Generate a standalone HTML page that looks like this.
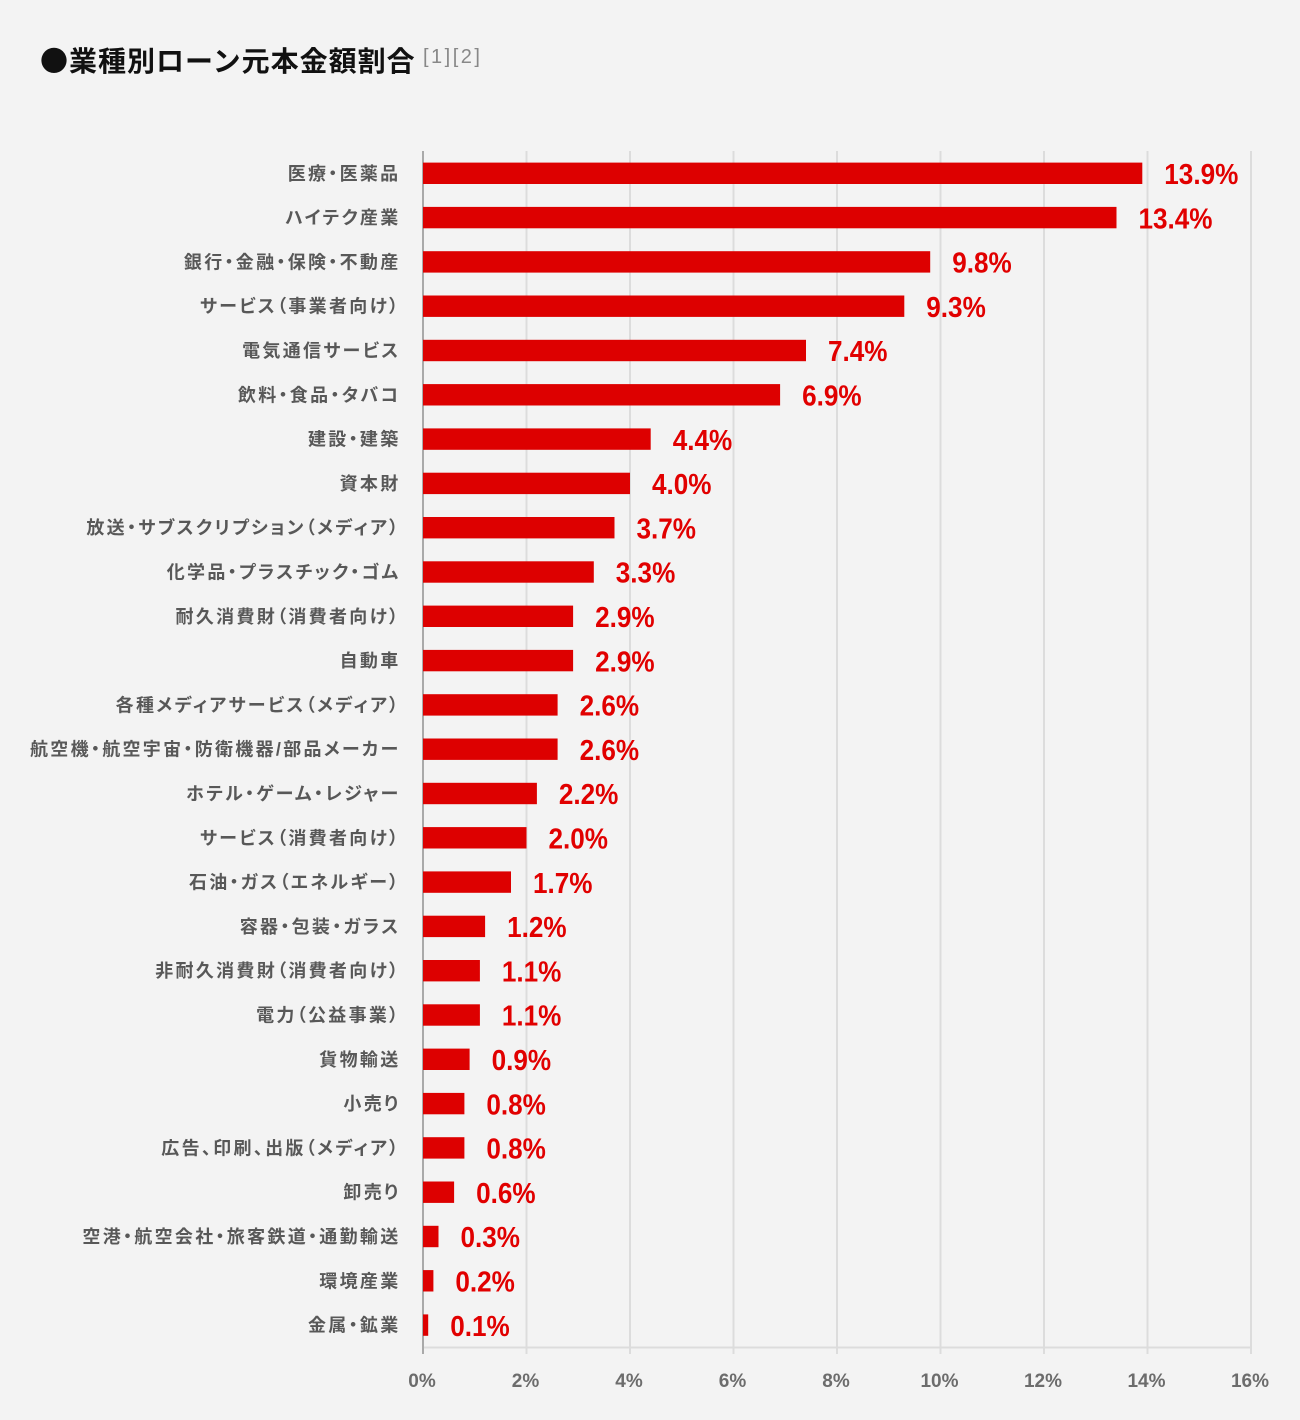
<!DOCTYPE html>
<html><head><meta charset="utf-8"><style>
html,body{margin:0;padding:0;background:#f3f3f3;}
body{width:1300px;height:1420px;overflow:hidden;}
svg{display:block;}
.cat{font-family:"Liberation Sans","Noto Sans CJK JP",sans-serif;font-weight:700;font-size:18px;fill:#585858;letter-spacing:2.3px;font-feature-settings:"palt";}
.val{font-family:"Liberation Sans",sans-serif;font-weight:700;font-size:29px;fill:#e10000;}
.tick{font-family:"Liberation Sans",sans-serif;font-weight:700;font-size:19px;fill:#6c6c6c;}
</style></head><body>
<svg width="1300" height="1420" viewBox="0 0 1300 1420" xmlns="http://www.w3.org/2000/svg">
<rect x="0" y="0" width="1300" height="1420" fill="#f3f3f3"/>
<text x="40" y="71" font-family="'Liberation Sans','Noto Sans CJK JP',sans-serif" font-weight="700" font-size="28" fill="#111" letter-spacing="1"><tspan font-family="'Noto Sans CJK JP',sans-serif">●</tspan>業種別ローン元本金額割合</text>
<text x="423" y="63" font-family="'Liberation Sans',sans-serif" font-size="20" fill="#888888" letter-spacing="2.5">[1][2]</text>
<g stroke="#dcdcdc" stroke-width="2">
<line x1="526.5" y1="151" x2="526.5" y2="1354"/>
<line x1="630" y1="151" x2="630" y2="1354"/>
<line x1="733.5" y1="151" x2="733.5" y2="1354"/>
<line x1="837" y1="151" x2="837" y2="1354"/>
<line x1="940.5" y1="151" x2="940.5" y2="1354"/>
<line x1="1044" y1="151" x2="1044" y2="1354"/>
<line x1="1147.5" y1="151" x2="1147.5" y2="1354"/>
<line x1="1251" y1="151" x2="1251" y2="1354"/>
<line x1="423" y1="1347.5" x2="1252" y2="1347.5"/>
</g>
<line x1="423" y1="151" x2="423" y2="1354" stroke="#a9a9a9" stroke-width="2"/>
<g fill="#dd0000">
<rect x="423" y="162.6" width="719.3" height="21.4"/>
<rect x="423" y="206.9" width="693.5" height="21.4"/>
<rect x="423" y="251.2" width="507.2" height="21.4"/>
<rect x="423" y="295.5" width="481.3" height="21.4"/>
<rect x="423" y="339.8" width="383.0" height="21.4"/>
<rect x="423" y="384.1" width="357.1" height="21.4"/>
<rect x="423" y="428.4" width="227.7" height="21.4"/>
<rect x="423" y="472.7" width="207.0" height="21.4"/>
<rect x="423" y="517.0" width="191.5" height="21.4"/>
<rect x="423" y="561.3" width="170.8" height="21.4"/>
<rect x="423" y="605.6" width="150.1" height="21.4"/>
<rect x="423" y="649.9" width="150.1" height="21.4"/>
<rect x="423" y="694.2" width="134.6" height="21.4"/>
<rect x="423" y="738.5" width="134.6" height="21.4"/>
<rect x="423" y="782.8" width="113.9" height="21.4"/>
<rect x="423" y="827.1" width="103.5" height="21.4"/>
<rect x="423" y="871.4" width="88.0" height="21.4"/>
<rect x="423" y="915.7" width="62.1" height="21.4"/>
<rect x="423" y="960.0" width="56.9" height="21.4"/>
<rect x="423" y="1004.3" width="56.9" height="21.4"/>
<rect x="423" y="1048.6" width="46.6" height="21.4"/>
<rect x="423" y="1092.9" width="41.4" height="21.4"/>
<rect x="423" y="1137.2" width="41.4" height="21.4"/>
<rect x="423" y="1181.5" width="31.1" height="21.4"/>
<rect x="423" y="1225.8" width="15.5" height="21.4"/>
<rect x="423" y="1270.1" width="10.4" height="21.4"/>
<rect x="423" y="1314.4" width="5.2" height="21.4"/>
</g>
<g class="cat" text-anchor="end">
<text x="400.5" y="179.8">医療・医薬品</text>
<text x="400.5" y="224.1">ハイテク産業</text>
<text x="400.5" y="268.4">銀行・金融・保険・不動産</text>
<text x="400.5" y="312.7">サービス（事業者向け）</text>
<text x="400.5" y="357.0">電気通信サービス</text>
<text x="400.5" y="401.3">飲料・食品・タバコ</text>
<text x="400.5" y="445.6">建設・建築</text>
<text x="400.5" y="489.9">資本財</text>
<text x="400.5" y="534.2">放送・サブスクリプション（メディア）</text>
<text x="400.5" y="578.5">化学品・プラスチック・ゴム</text>
<text x="400.5" y="622.8">耐久消費財（消費者向け）</text>
<text x="400.5" y="667.1">自動車</text>
<text x="400.5" y="711.4">各種メディアサービス（メディア）</text>
<text x="400.5" y="755.7">航空機・航空宇宙・防衛機器/部品メーカー</text>
<text x="400.5" y="800.0">ホテル・ゲーム・レジャー</text>
<text x="400.5" y="844.3">サービス（消費者向け）</text>
<text x="400.5" y="888.6">石油・ガス（エネルギー）</text>
<text x="400.5" y="932.9">容器・包装・ガラス</text>
<text x="400.5" y="977.2">非耐久消費財（消費者向け）</text>
<text x="400.5" y="1021.5">電力（公益事業）</text>
<text x="400.5" y="1065.8">貨物輸送</text>
<text x="400.5" y="1110.1">小売り</text>
<text x="400.5" y="1154.4">広告、印刷、出版（メディア）</text>
<text x="400.5" y="1198.7">卸売り</text>
<text x="400.5" y="1243.0">空港・航空会社・旅客鉄道・通勤輸送</text>
<text x="400.5" y="1287.3">環境産業</text>
<text x="400.5" y="1331.6">金属・鉱業</text>
</g>
<g class="val">
<text transform="translate(1164.3,184.0) scale(0.9,1)">13.9%</text>
<text transform="translate(1138.5,228.3) scale(0.9,1)">13.4%</text>
<text transform="translate(952.2,272.6) scale(0.9,1)">9.8%</text>
<text transform="translate(926.3,316.9) scale(0.9,1)">9.3%</text>
<text transform="translate(828.0,361.2) scale(0.9,1)">7.4%</text>
<text transform="translate(802.1,405.5) scale(0.9,1)">6.9%</text>
<text transform="translate(672.7,449.8) scale(0.9,1)">4.4%</text>
<text transform="translate(652.0,494.1) scale(0.9,1)">4.0%</text>
<text transform="translate(636.5,538.4) scale(0.9,1)">3.7%</text>
<text transform="translate(615.8,582.7) scale(0.9,1)">3.3%</text>
<text transform="translate(595.1,627.0) scale(0.9,1)">2.9%</text>
<text transform="translate(595.1,671.3) scale(0.9,1)">2.9%</text>
<text transform="translate(579.6,715.6) scale(0.9,1)">2.6%</text>
<text transform="translate(579.6,759.9) scale(0.9,1)">2.6%</text>
<text transform="translate(558.9,804.2) scale(0.9,1)">2.2%</text>
<text transform="translate(548.5,848.5) scale(0.9,1)">2.0%</text>
<text transform="translate(533.0,892.8) scale(0.9,1)">1.7%</text>
<text transform="translate(507.1,937.1) scale(0.9,1)">1.2%</text>
<text transform="translate(501.9,981.4) scale(0.9,1)">1.1%</text>
<text transform="translate(501.9,1025.7) scale(0.9,1)">1.1%</text>
<text transform="translate(491.6,1070.0) scale(0.9,1)">0.9%</text>
<text transform="translate(486.4,1114.3) scale(0.9,1)">0.8%</text>
<text transform="translate(486.4,1158.6) scale(0.9,1)">0.8%</text>
<text transform="translate(476.1,1202.9) scale(0.9,1)">0.6%</text>
<text transform="translate(460.5,1247.2) scale(0.9,1)">0.3%</text>
<text transform="translate(455.4,1291.5) scale(0.9,1)">0.2%</text>
<text transform="translate(450.2,1335.8) scale(0.9,1)">0.1%</text>
</g>
<g class="tick" text-anchor="middle">
<text x="422" y="1387">0%</text>
<text x="525.5" y="1387">2%</text>
<text x="629" y="1387">4%</text>
<text x="732.5" y="1387">6%</text>
<text x="836" y="1387">8%</text>
<text x="939.5" y="1387">10%</text>
<text x="1043" y="1387">12%</text>
<text x="1146.5" y="1387">14%</text>
<text x="1250" y="1387">16%</text>
</g>
</svg>
</body></html>
